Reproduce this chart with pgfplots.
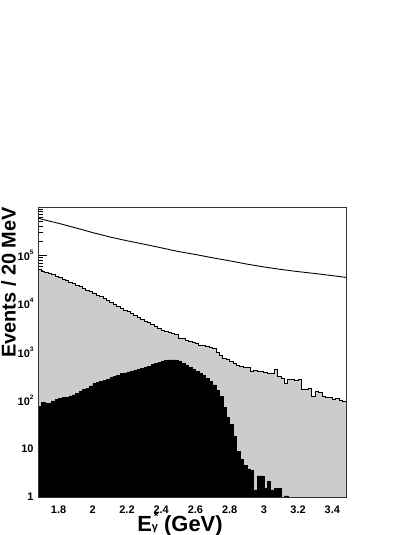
\documentclass[border=0pt]{standalone}
\usepackage{pgfplots}
\pgfplotsset{compat=1.18}
\usepackage{fontspec}
\setmainfont{Liberation Sans}
\begin{document}
\begin{tikzpicture}[x=1bp,y=1bp]
\useasboundingbox (0,0) rectangle (414,535);
\begin{axis}[
  name=ax,
  at={(38bp,38bp)}, anchor=south west,
  scale only axis, width=308bp, height=290bp,
  xmin=1.68, xmax=3.48, ymode=log, ymin=1, ymax=1e6,
  xtick={1.8,2.0,2.2,2.4,2.6,2.8,3.0,3.2,3.4},
  xticklabels={1.8,2,2.2,2.4,2.6,2.8,3,3.2,3.4},
  ytick={1,10,100,1000,10000,100000},
  yticklabels={1\hspace{3bp},10\hspace{3bp},10\raisebox{0.55em}{\fontsize{6.5}{6.5}\selectfont 2},10\raisebox{0.55em}{\fontsize{6.5}{6.5}\selectfont 3},10\raisebox{0.55em}{\fontsize{6.5}{6.5}\selectfont 4},10\raisebox{0.55em}{\fontsize{6.5}{6.5}\selectfont 5}},
  minor ytick={2,3,4,5,6,7,8,9,20,30,40,50,60,70,80,90,200,300,400,500,600,700,800,900,2000,3000,4000,5000,6000,7000,8000,9000,20000,30000,40000,50000,60000,70000,80000,90000,200000,300000,400000,500000,600000,700000,800000,900000},
  tick align=inside, xtick pos=bottom, ytick pos=left,
  major tick length=9bp, minor tick length=4.5bp,
  tick style={black, line width=0.5bp},
  ticklabel style={font=\bfseries\fontsize{11}{13}\selectfont},
  xticklabel style={yshift=-5bp},
  yticklabel style={xshift=-1bp},
  axis line style={black!80, line width=0.6bp},
  xlabel={E\makebox[0pt][l]{\hspace{2bp}\raisebox{0.5em}{\fontsize{12}{12}\selectfont *}}\raisebox{0.05em}{\fontsize{11}{11}\selectfont γ} (GeV)},
  xlabel style={font=\bfseries\fontsize{22}{24}\selectfont, at={(rel axis cs:0.461,-0.12)}, anchor=base, inner sep=0pt},
  ylabel={Events / 20 MeV},
  ylabel style={font=\bfseries\fontsize{20}{22}\selectfont, at={(rel axis cs:-0.0724,1)}, anchor=base east, inner sep=0pt},
]
% gray histogram
\addplot[const plot, fill=black!20, draw=black, line width=0.9bp] coordinates {
(1.68,0.1)
(1.68,50700)(1.70,47500)(1.72,44600)(1.74,41800)(1.76,39300)(1.78,36800)(1.80,34500)(1.82,32400)(1.84,30200)(1.86,27900)(1.88,25900)(1.90,23900)(1.92,22200)(1.94,20500)(1.96,19000)(1.98,17600)(2.00,16300)(2.02,15100)(2.04,13800)(2.06,12600)(2.08,11500)(2.10,10500)(2.12,9660)(2.14,8830)(2.16,8070)(2.18,7390)(2.20,6760)(2.22,6170)(2.24,5660)(2.26,5190)(2.28,4750)(2.30,4360)(2.32,4000)(2.34,3660)(2.36,3360)(2.38,3080)(2.40,2820)(2.42,2630)(2.44,2510)(2.46,2430)(2.48,2340)(2.50,1950)(2.52,1880)(2.54,1760)(2.56,1680)(2.58,1570)(2.60,1500)(2.62,1380)(2.64,1340)(2.66,1280)(2.68,1250)(2.70,1170)(2.72,1000)(2.74,850)(2.76,724)(2.78,690)(2.80,631)(2.82,575)(2.84,530)(2.86,501)(2.88,485)(2.90,468)(2.92,398)(2.94,410)(2.96,398)(2.98,389)(3.00,380)(3.02,363)(3.04,355)(3.06,427)(3.08,309)(3.10,288)(3.12,226)(3.14,275)(3.16,269)(3.18,263)(3.20,275)(3.22,166)(3.24,166)(3.26,178)(3.28,123)(3.30,151)(3.32,148)(3.34,120)(3.36,115)(3.38,117)(3.40,105)(3.42,110)(3.44,100)(3.46,94)(3.48,94)
(3.48,0.1)
};
% black histogram
\addplot[const plot, fill=black, draw=black, line width=0.5bp] coordinates {
(1.68,0.1)
(1.68,74)(1.70,91)(1.72,85)(1.74,85)(1.76,98)(1.78,105)(1.80,110)(1.82,115)(1.84,117)(1.86,123)(1.88,129)(1.90,141)(1.92,151)(1.94,166)(1.96,178)(1.98,200)(2.00,224)(2.02,234)(2.04,245)(2.06,257)(2.08,275)(2.10,295)(2.12,309)(2.14,331)(2.16,355)(2.18,372)(2.20,389)(2.22,407)(2.24,427)(2.26,442)(2.28,457)(2.30,479)(2.32,513)(2.34,550)(2.36,575)(2.38,603)(2.40,631)(2.42,661)(2.44,684)(2.46,684)(2.48,661)(2.50,631)(2.52,575)(2.54,525)(2.56,479)(2.58,437)(2.60,398)(2.62,363)(2.64,324)(2.66,288)(2.68,251)(2.70,209)(2.72,158)(2.74,120)(2.76,71)(2.78,45)(2.80,32)(2.82,18)(2.84,8.9)(2.86,6.0)(2.88,4.5)(2.90,3.8)(2.92,3.5)(2.94,1.4)(2.96,2.75)(2.98,2.75)(3.00,1.5)(3.02,2.1)(3.04,1.4)(3.06,1.5)(3.08,1.5)(3.10,0.1)(3.12,1.05)(3.14,0.1)(3.48,0.1)
};
% total (top line)
\addplot[sharp plot, draw=black, line width=0.9bp] coordinates {
(1.68,5.9e5)(1.70,5.6e5)(1.80,4.6e5)(1.90,3.7e5)(2.00,2.95e5)(2.10,2.4e5)(2.20,2.0e5)(2.30,1.7e5)(2.40,1.43e5)(2.50,1.2e5)(2.60,1.04e5)(2.70,8.9e4)(2.80,7.7e4)(2.90,6.6e4)(3.00,5.75e4)(3.10,5.1e4)(3.20,4.6e4)(3.30,4.2e4)(3.40,3.8e4)(3.48,3.5e4)
};
\end{axis}
\draw[black!80, line width=0.6bp] (ax.south west) rectangle (ax.north east);
\end{tikzpicture}
\end{document}
